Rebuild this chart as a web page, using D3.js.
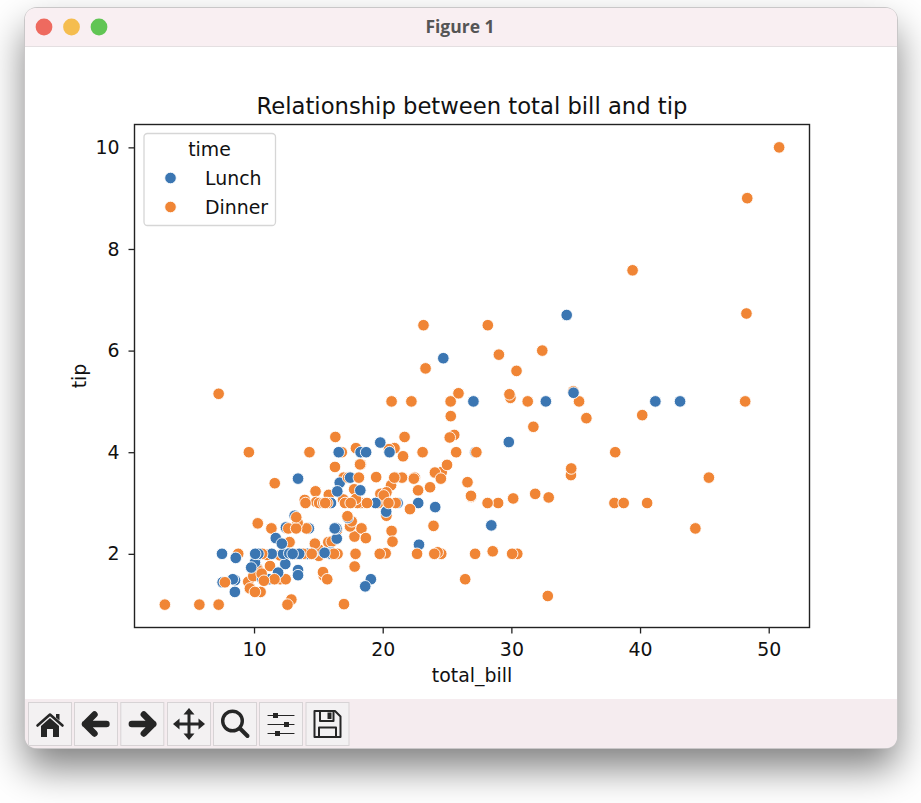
<!DOCTYPE html>
<html>
<head>
<meta charset="utf-8">
<script src="https://cdn.jsdelivr.net/npm/d3@7"></script>
<style>
  html, body { margin: 0; padding: 0; width: 921px; height: 803px; overflow: hidden; background: #fff; }
  #win {
    position: absolute; left: 25px; top: 8px; width: 872px; height: 740px;
    border-radius: 12px; background: #fff;
    box-shadow: 0 0 0 1px #c9c7c8, 0 20px 38px rgba(0, 0, 0, 0.5);
  }
  svg { position: absolute; left: 0; top: 0; }
  text { font-family: "DejaVu Sans", sans-serif; fill: #111; }
</style>
</head>
<body>
<div id="win"></div>
<svg id="chart" width="921" height="803"></svg>
<script>
// Values in row order, later points are painted over earlier ones
var totalBill = [
  16.99, 10.34, 21.01, 23.68, 24.59, 25.29, 8.77, 26.88, 15.04, 14.78,
  10.27, 35.26, 15.42, 18.43, 14.83, 21.58, 10.33, 16.29, 16.97, 20.65,
  17.92, 20.29, 15.77, 39.42, 19.82, 17.81, 13.37, 12.69, 21.7, 19.65,
  9.55, 18.35, 15.06, 20.69, 17.78, 24.06, 16.31, 16.93, 18.69, 31.27,
  16.04, 17.46, 13.94, 9.68, 30.4, 18.29, 22.23, 32.4, 28.55, 18.04,
  12.54, 10.29, 34.81, 9.94, 25.56, 19.49, 38.01, 26.41, 11.24, 48.27,
  20.29, 13.81, 11.02, 18.29, 17.59, 20.08, 16.45, 3.07, 20.23, 15.01,
  12.02, 17.07, 26.86, 25.28, 14.73, 10.51, 17.92, 27.2, 22.76, 17.29,
  19.44, 16.66, 10.07, 32.68, 15.98, 34.83, 13.03, 18.28, 24.71, 21.16,
  28.97, 22.49, 5.75, 16.32, 22.75, 40.17, 27.28, 12.03, 21.01, 12.46,
  11.35, 15.38, 44.3, 22.42, 20.92, 15.36, 20.49, 25.21, 18.24, 14.31,
  14, 7.25, 38.07, 23.95, 25.71, 17.31, 29.93, 10.65, 12.43, 24.08,
  11.69, 13.42, 14.26, 15.95, 12.48, 29.8, 8.52, 14.52, 11.38, 22.82,
  19.08, 20.27, 11.17, 12.26, 18.26, 8.51, 10.33, 14.15, 16, 13.16,
  17.47, 34.3, 41.19, 27.05, 16.43, 8.35, 18.64, 11.87, 9.78, 7.51,
  14.07, 13.13, 17.26, 24.55, 19.77, 29.85, 48.17, 25, 13.39, 16.49,
  21.5, 12.66, 16.21, 13.81, 17.51, 24.52, 20.76, 31.71, 10.59, 10.63,
  50.81, 15.81, 7.25, 31.85, 16.82, 32.9, 17.89, 14.48, 9.6, 34.63,
  34.65, 23.33, 45.35, 23.17, 40.55, 20.69, 20.9, 30.46, 18.15, 23.1,
  15.69, 19.81, 28.44, 15.48, 16.58, 7.56, 10.34, 43.11, 13, 13.51,
  18.71, 12.74, 13, 16.4, 20.53, 16.47, 26.59, 38.73, 24.27, 12.76,
  30.06, 25.89, 48.33, 13.27, 28.17, 12.9, 28.15, 11.59, 7.74, 30.14,
  12.16, 13.42, 8.58, 15.98, 13.42, 16.27, 10.09, 20.45, 13.28, 22.12,
  24.01, 15.69, 11.61, 10.77, 15.53, 10.07, 12.6, 32.83, 35.83, 29.03,
  27.18, 22.67, 17.82, 18.78
];
var tip = [
  1.01, 1.66, 3.5, 3.31, 3.61, 4.71, 2, 3.12, 1.96, 3.23,
  1.71, 5, 1.57, 3, 3.02, 3.92, 1.67, 3.71, 3.5, 3.35,
  4.08, 2.75, 2.23, 7.58, 3.18, 2.34, 2, 2, 4.3, 3,
  1.45, 2.5, 3, 2.45, 3.27, 3.6, 2, 3.07, 2.31, 5,
  2.24, 2.54, 3.06, 1.32, 5.6, 3, 5, 6, 2.05, 3,
  2.5, 2.6, 5.2, 1.56, 4.34, 3.51, 3, 1.5, 1.76, 6.73,
  3.21, 2, 1.98, 3.76, 2.64, 3.15, 2.47, 1, 2.01, 2.09,
  1.97, 3, 3.14, 5, 2.2, 1.25, 3.08, 4, 3, 2.71,
  3, 3.4, 1.83, 5, 2.03, 5.17, 2, 4, 5.85, 3,
  3, 3.5, 1, 4.3, 3.25, 4.73, 4, 1.5, 3, 1.5,
  2.5, 3, 2.5, 3.48, 4.08, 1.64, 4.06, 4.29, 3.76, 4,
  3, 1, 4, 2.55, 4, 3.5, 5.07, 1.5, 1.8, 2.92,
  2.31, 1.68, 2.5, 2, 2.52, 4.2, 1.48, 2, 2, 2.18,
  1.5, 2.83, 1.5, 2, 3.25, 1.25, 2, 2, 2, 2.75,
  3.5, 6.7, 5, 5, 2.3, 1.5, 1.36, 1.63, 1.73, 2,
  2.5, 2, 2.74, 2, 2, 5.14, 5, 3.75, 2.61, 2,
  3.5, 2.5, 2, 2, 3, 3.48, 2.24, 4.5, 1.61, 2,
  10, 3.16, 5.15, 3.18, 4, 3.11, 2, 2, 4, 3.55,
  3.68, 5.65, 3.5, 6.5, 3, 5, 3.5, 2, 3.5, 4,
  1.5, 4.19, 2.56, 2.02, 4, 1.44, 2, 5, 2, 2,
  4, 2.01, 2, 2.5, 4, 3.23, 3.41, 3, 2.03, 2.23,
  2, 5.16, 9, 2.5, 6.5, 1.1, 3, 1.5, 1.44, 3.09,
  2.2, 3.48, 1.92, 3, 1.58, 2.5, 2, 3, 2.72, 2.88,
  2, 3, 3.39, 1.47, 3, 1.25, 1, 1.17, 4.67, 5.92,
  2, 2, 1.75, 3
];
// D = Dinner, L = Lunch, one letter per row
var mealTime = (
  "DDDDDDDDDD" + "DDDDDDDDDD" + "DDDDDDDDDD" + "DDDDDDDDDD" +
  "DDDDDDDDDD" + "DDDDDDDDDD" + "DDDDDDDDDD" + "DDDDDDDLLL" +
  "LLLLLLLLLL" + "DDDDDDDDDD" + "DDDDDDDDDD" + "DDDDDDDLLL" +
  "LLLLLLLLLL" + "LLLLLLLLLL" + "LLLLLLLLLL" + "DDDDDDDDDD" +
  "DDDDDDDDDD" + "DDDDDDDDDD" + "DDDDDDDDDD" + "DLLLLLLLLL" +
  "LLLLLLDDDD" + "DDDDDDDDDD" + "LLLLLLLDDD" + "DDDDDDDDDD" +
  "DDDD"
).split("");

var xTicks = [10, 20, 30, 40, 50];
var yTicks = [2, 4, 6, 8, 10];
var legendNames = ["Lunch", "Dinner"];
var legendCodes = ["L", "D"];
var toolButtons = ["home", "back", "forward", "move", "zoom", "sliders", "save"];

var svg = d3.select("#chart");

// Window chrome
var win = { x: 25, y: 8, w: 872, h: 740, r: 12, titleH: 38, toolY: 699 };

svg.append("path")
  .attr("d", "M" + win.x + "," + (win.y + win.titleH) + "V" + (win.y + win.r) +
    "Q" + win.x + "," + win.y + " " + (win.x + win.r) + "," + win.y +
    "H" + (win.x + win.w - win.r) +
    "Q" + (win.x + win.w) + "," + win.y + " " + (win.x + win.w) + "," + (win.y + win.r) +
    "V" + (win.y + win.titleH) + "Z")
  .attr("fill", "#f9eff2");
svg.append("line")
  .attr("x1", win.x).attr("x2", win.x + win.w)
  .attr("y1", win.y + win.titleH + 0.5).attr("y2", win.y + win.titleH + 0.5)
  .attr("stroke", "#e4dfe1");

[[44, "#ee6a5f"], [71.5, "#f5bd4f"], [99, "#61c554"]].forEach(function (d) {
  svg.append("circle").attr("cx", d[0]).attr("cy", 27).attr("r", 8.4).attr("fill", d[1]);
});

svg.append("text")
  .attr("x", 460).attr("y", 32.5)
  .attr("text-anchor", "middle")
  .style("font-family", "'Open Sans', sans-serif")
  .style("font-size", "17.5px")
  .style("font-weight", 700)
  .style("fill", "#555")
  .text("Figure 1");

svg.append("path")
  .attr("d", "M" + win.x + "," + win.toolY + "H" + (win.x + win.w) +
    "V" + (win.y + win.h - win.r) +
    "Q" + (win.x + win.w) + "," + (win.y + win.h) + " " + (win.x + win.w - win.r) + "," + (win.y + win.h) +
    "H" + (win.x + win.r) +
    "Q" + win.x + "," + (win.y + win.h) + " " + win.x + "," + (win.y + win.h - win.r) + "Z")
  .attr("fill", "#f5ecef");

// Toolbar buttons, each icon is drawn around the button centre
var buttonX = d3.scaleOrdinal().domain(toolButtons).range([50, 96, 142.3, 189, 235, 281, 327.5]);
var iconInk = "#262626";

function drawIcon(g, name) {
  function stroke(d, w) {
    g.append("path").attr("d", d).attr("fill", "none").attr("stroke", iconInk)
      .attr("stroke-width", w).attr("stroke-linecap", "round").attr("stroke-linejoin", "round");
  }
  function fill(d) {
    g.append("path").attr("d", d).attr("fill", iconInk);
  }
  if (name === "home") {
    stroke("M-12.5,1.5L0,-9.5L12.5,1.5", 2.6);
    fill("M-9,2L0,-6L9,2V13H3V5H-3V13H-9Z");
    fill("M6,-10H9.5V-3.5L6,-6.5Z");
  } else if (name === "back") {
    stroke("M-11,0H10.5M-1.5,-9.5L-11,0L-1.5,9.5", 6.4);
  } else if (name === "forward") {
    stroke("M-10.5,0H11M1.5,-9.5L11,0L1.5,9.5", 6.4);
  } else if (name === "move") {
    stroke("M-12,0H12M0,-12V12", 3);
    fill("M-5.5,-9.5L0,-16L5.5,-9.5Z");
    fill("M-5.5,9.5L0,16L5.5,9.5Z");
    fill("M-9.5,-5.5L-16,0L-9.5,5.5Z");
    fill("M9.5,-5.5L16,0L9.5,5.5Z");
  } else if (name === "zoom") {
    g.append("circle").attr("cx", -2.5).attr("cy", -3).attr("r", 9.8)
      .attr("fill", "none").attr("stroke", iconInk).attr("stroke-width", 3.4);
    stroke("M5,4.5L12.5,12", 4);
  } else if (name === "sliders") {
    stroke("M-13,-8.5H13M-13,0.5H13M-13,9.5H13", 1.2);
    fill("M-8,-11H-3V-6H-8Z");
    fill("M3,-2H8V3H3Z");
    fill("M-6,7H-1V12H-6Z");
  } else {
    stroke("M-13,-13H7.5L13,-7.5V13H-13Z", 2);
    stroke("M-7.5,-13V-3H6V-13", 2);
    fill("M0,-11.5H4V-5H0Z");
    stroke("M-8.5,13V3.5H8.5V13", 2);
  }
}

toolButtons.forEach(function (name) {
  var g = svg.append("g").attr("transform", "translate(" + buttonX(name) + ",724)");
  g.append("rect")
    .attr("x", -21.5).attr("y", -21.5).attr("width", 43).attr("height", 43)
    .attr("fill", "#f3f1f2").attr("stroke", "#d7d3d5");
  drawIcon(g, name);
});

// Plot area
var box = { left: 134.5, right: 809.5, top: 124.5, bottom: 627.5 };

var x = d3.scaleLinear().domain([0.71, 53.17]).range([box.left, box.right]);
var y = d3.scaleLinear().domain([0.55, 10.45]).range([box.bottom, box.top]);

var colour = d3.scaleOrdinal().domain(legendCodes).range(["#3b76b2", "#f08535"]);

svg.append("g")
  .selectAll("circle")
  .data(totalBill.map(function (d, i) { return { bill: d, tip: tip[i], time: mealTime[i] }; }))
  .join("circle")
  .attr("cx", function (d) { return x(d.bill); })
  .attr("cy", function (d) { return y(d.tip); })
  .attr("r", 5.8)
  .attr("fill", function (d) { return colour(d.time); })
  .attr("stroke", "#fff")
  .attr("stroke-width", 0.9);

var xAxis = svg.append("g")
  .attr("transform", "translate(0," + box.bottom + ")")
  .call(d3.axisBottom(x).tickValues(xTicks).tickSize(6).tickPadding(9).tickFormat(d3.format("d")));
var yAxis = svg.append("g")
  .attr("transform", "translate(" + box.left + ",0)")
  .call(d3.axisLeft(y).tickValues(yTicks).tickSize(6).tickPadding(9).tickFormat(d3.format("d")));

[xAxis, yAxis].forEach(function (axis) {
  axis.select(".domain").remove();
  axis.selectAll("line").attr("stroke", "#222").attr("stroke-width", 1.3);
  axis.selectAll("text").style("font-size", "18.9px").style("font-family", "'DejaVu Sans'").attr("fill", "#111");
});

svg.append("rect")
  .attr("x", box.left).attr("y", box.top)
  .attr("width", box.right - box.left).attr("height", box.bottom - box.top)
  .attr("fill", "none").attr("stroke", "#222").attr("stroke-width", 1.4);

svg.append("text")
  .attr("x", 472).attr("y", 113.5)
  .attr("text-anchor", "middle")
  .style("font-size", "22.7px")
  .text("Relationship between total bill and tip");

svg.append("text")
  .attr("x", 472).attr("y", 682)
  .attr("text-anchor", "middle")
  .style("font-size", "18.9px")
  .text("total_bill");

svg.append("text")
  .attr("transform", "translate(86,376) rotate(-90)")
  .attr("text-anchor", "middle")
  .style("font-size", "18.9px")
  .text("tip");

// Legend
var legend = svg.append("g");
legend.append("rect")
  .attr("x", 144).attr("y", 133.5).attr("width", 131.5).attr("height", 92)
  .attr("rx", 3.5)
  .attr("fill", "#fff").attr("fill-opacity", 0.8)
  .attr("stroke", "#d6d6d6").attr("stroke-width", 1.3);
legend.append("text")
  .attr("x", 209.5).attr("y", 155.5)
  .attr("text-anchor", "middle")
  .style("font-size", "18.9px")
  .text("time");

var legendY = d3.scalePoint().domain(legendNames).range([178, 207]);
legendNames.forEach(function (name, i) {
  legend.append("circle")
    .attr("cx", 170.5).attr("cy", legendY(name)).attr("r", 5.8)
    .attr("fill", colour(legendCodes[i]))
    .attr("stroke", "#fff").attr("stroke-width", 0.9);
  legend.append("text")
    .attr("x", 205).attr("y", legendY(name) + 6.5)
    .style("font-size", "18.9px")
    .text(name);
});
</script>
</body>
</html>
